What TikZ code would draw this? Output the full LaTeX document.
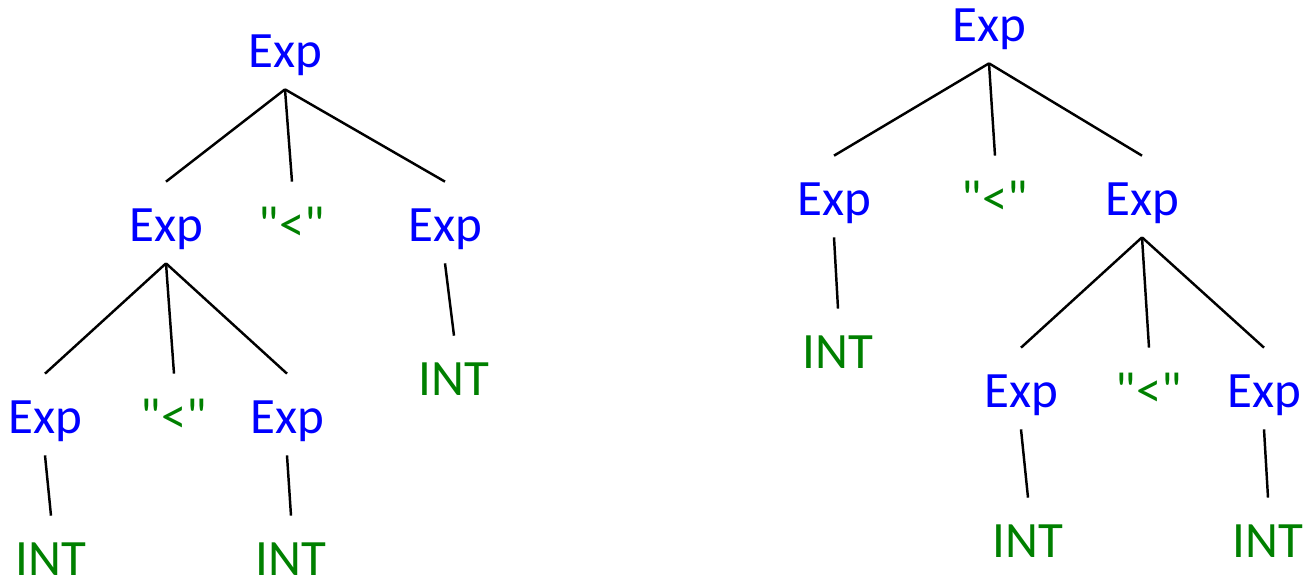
\documentclass[tikz,border=0pt]{standalone}
\usepackage{fontspec}
\newfontfamily\symfont{Carlito}
\usepackage{tikz, xcolor}

\begin{document}
\begin{tikzpicture}[
  sym/.style={
    % The font:
    font=\symfont\fontsize{29}{35}\selectfont,
    % no padding, fixed box so the edges start and end at the same gap
    inner sep=0pt,
    text height=1.18cm,
    text depth=0.44cm,
    % placed by the baseline
    anchor=base
  },
  nonterm/.style={sym, text=blue},
  term/.style={sym, text=green!50!black},
  leaf/.style={term, text depth=0pt}, % nothing hangs below a leaf
  edge/.style={line width=1.4pt, black}
  ]

  \useasboundingbox (0,0) rectangle (26.1,-11.74);

  % left tree
  \node (e0) [nonterm] at (5.70, -1.34) {Exp};
  \node (e1) [nonterm] at (3.32, -4.82) {Exp};
  \node (l1) [term]    at (5.84, -4.82) {"<"};
  \node (e2) [nonterm] at (8.90, -4.82) {Exp};
  \node (e3) [nonterm] at (0.90, -8.66) {Exp};
  \node (l2) [term]    at (3.48, -8.66) {"<"};
  \node (e4) [nonterm] at (5.74, -8.66) {Exp};
  \node (i1) [leaf]    at (1.02, -11.50) {INT};
  \node (i2) [leaf]    at (5.82, -11.50) {INT};
  \node (i3) [leaf]    at (9.08, -7.90) {INT};

  % right tree
  \node (r0) [nonterm] at (19.78, -0.82) {Exp};
  \node (r1) [nonterm] at (16.68, -4.30) {Exp};
  \node (m1) [term]    at (19.90, -4.30) {"<"};
  \node (r2) [nonterm] at (22.84, -4.30) {Exp};
  \node (j1) [leaf]    at (16.76, -7.36) {INT};
  \node (r3) [nonterm] at (20.42, -8.14) {Exp};
  \node (m2) [term]    at (22.98, -8.14) {"<"};
  \node (r4) [nonterm] at (25.28, -8.14) {Exp};
  \node (j2) [leaf]    at (20.56, -11.14) {INT};
  \node (j3) [leaf]    at (25.36, -11.14) {INT};

  % edges, parent/child
  \foreach \p/\c in {e0/e1, e0/l1, e0/e2, e1/e3, e1/l2, e1/e4, e3/i1, e4/i2, e2/i3,
                     r0/r1, r0/m1, r0/r2, r1/j1, r2/r3, r2/m2, r2/r4, r3/j2, r4/j3}
    \draw [edge] (\p.south) -- (\c.north);

\end{tikzpicture}
\end{document}
